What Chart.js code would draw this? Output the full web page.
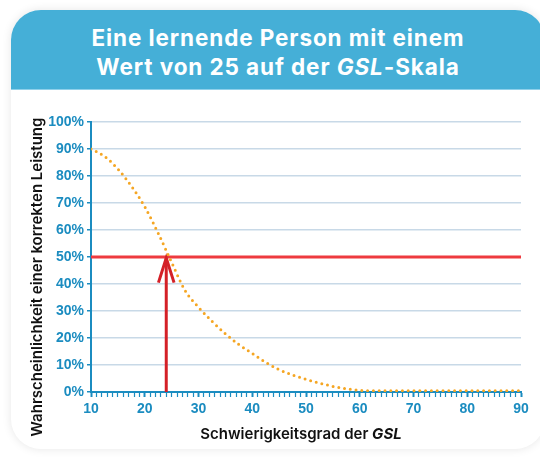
<!DOCTYPE html>
<html>
<head>
<meta charset="utf-8">
<script src="https://cdn.jsdelivr.net/npm/chart.js@4.4.1/dist/chart.umd.min.js"></script>
<style>
  html, body { margin: 0; padding: 0; background: #fff; }
  body { width: 540px; height: 458px; position: relative; overflow: hidden; }
  .card {
    position: absolute; left: 11px; top: 10px; width: 534px; height: 439px;
    background: #fff; border-radius: 30px 30px 30px 30px;
    box-shadow: 0 0 10px rgba(0,0,0,0.10);
    overflow: hidden;
  }
  .head {
    height: 80px; background: #45afd7; color: #fff;
    font-family: Inter, "Noto Sans", sans-serif; font-weight: 700;
    font-size: 22.5px; letter-spacing: 0.9px; line-height: 29px; text-align: center;
    padding-top: 13px; box-sizing: border-box;
    border-bottom: 1px solid #8fd0ea;
  }
  .head span { font-style: italic; }
  #chart { position: absolute; left: 0; top: 0; }
</style>
</head>
<body>
<div class="card">
  <div class="head">Eine lernende Person mit einem<br>Wert von 25 auf der <span>GSL</span>-Skala</div>
</div>
<canvas id="chart" width="540" height="458"></canvas>
<script>
// Schwierigkeitsgrad (x) und Wahrscheinlichkeit (y, %)
const difficulty = [10, 12.5, 15, 17.5, 20, 22.5, 25, 27.5, 30, 32.5, 35, 37.5, 40, 42.5, 45, 47.5, 50, 52.5, 55, 57.5, 60, 62.5, 65, 70, 75, 80, 85, 90]
const probability = [90, 87.3, 82.6, 76.3, 68.6, 58.8, 48, 37.6, 31.4, 26.2, 21.6, 17.6, 14.3, 11, 8.3, 6.3, 4.7, 3.3, 2.1, 1.2, 0.6, 0.5, 0.5, 0.5, 0.5, 0.5, 0.5, 0.5]
// 50%-Linie
const lineX = [10, 90]
const lineY = [50, 50]
// Pfeil bei GSL-Wert ~24
const arrowX = [24, 24]
const arrowY = [0, 49.6]
const headX = [22.55, 24, 25.45]
const headY = [40.5, 49.6, 40.5]

const xTitle = 'Schwierigkeitsgrad der '
const xTitleItalic = 'GSL'
const yTitle = 'Wahrscheinlichkeit einer korrekten Leistung'

const blue = '#1b8cc0'
const toPts = (xs, ys) => xs.map((x, i) => ({ x: x, y: ys[i] }))

const titles = {
  id: 'titles',
  afterDraw(chart) {
    const c = chart.ctx
    c.save()
    c.fillStyle = '#111'
    c.textBaseline = 'alphabetic'
    // x title, mixed style
    const f1 = '600 15px Inter, "Noto Sans", sans-serif'
    const f2 = 'italic 700 15px Inter, "Noto Sans", sans-serif'
    c.font = f1
    const w1 = c.measureText(xTitle).width
    c.font = f2
    const w2 = c.measureText(xTitleItalic).width
    let x0 = 301 - (w1 + w2) / 2
    c.font = f1
    c.textAlign = 'left'
    c.fillText(xTitle, x0, 439)
    c.font = f2
    c.fillText(xTitleItalic, x0 + w1, 439)
    // y title
    c.translate(42, 277)
    c.rotate(-Math.PI / 2)
    c.font = f1
    c.textAlign = 'center'
    c.fillText(yTitle, 0, 0)
    c.restore()
  }
}

new Chart(document.querySelector('#chart'), {
  type: 'line',
  data: {
    datasets: [
      {
        data: toPts(difficulty, probability),
        borderColor: '#f5a623',
        borderWidth: 3,
        borderDash: [0, 5.8],
        borderCapStyle: 'round',
        cubicInterpolationMode: 'monotone',
        pointRadius: 0
      },
      {
        data: toPts(headX, headY),
        borderColor: '#d42027',
        borderWidth: 3,
        borderJoinStyle: 'miter',
        pointRadius: 0,
        tension: 0
      },
      {
        data: toPts(arrowX, arrowY),
        borderColor: '#d42027',
        borderWidth: 3,
        pointRadius: 0
      },
      {
        data: toPts(lineX, lineY),
        borderColor: '#ee3a3f',
        borderWidth: 3,
        pointRadius: 0
      }
    ]
  },
  options: {
    responsive: false,
    animation: false,
    layout: { padding: { top: 122, right: 19, left: 0, bottom: 0 } },
    plugins: { legend: { display: false }, tooltip: { enabled: false } },
    scales: {
      x: {
        type: 'linear',
        min: 10,
        max: 90,
        afterFit: s => { s.height = 66 },
        ticks: {
          stepSize: 1,
          autoSkip: false,
          maxRotation: 0,
          padding: 4,
          color: blue,
          font: { family: '"Liberation Sans", Arial, sans-serif', weight: 'bold', size: 14 },
          callback: v => (v % 10 === 0 ? v : '')
        },
        grid: {
          drawOnChartArea: false,
          tickLength: 5,
          tickColor: blue,
          tickWidth: ctx => (ctx.tick && ctx.tick.value % 10 === 0 ? 2 : 1.2)
        },
        border: { color: blue, width: 2 }
      },
      y: {
        min: 0,
        max: 100,
        afterFit: s => { s.width = 91 },
        ticks: {
          stepSize: 10,
          padding: 3,
          color: blue,
          font: { family: '"Liberation Sans", Arial, sans-serif', weight: 'bold', size: 14 },
          callback: v => v + '%'
        },
        grid: { color: '#c8d9e7', lineWidth: 1.5, tickLength: 4, tickColor: blue },
        border: { color: blue, width: 2 }
      }
    }
  },
  plugins: [titles]
})
</script>
</body>
</html>
